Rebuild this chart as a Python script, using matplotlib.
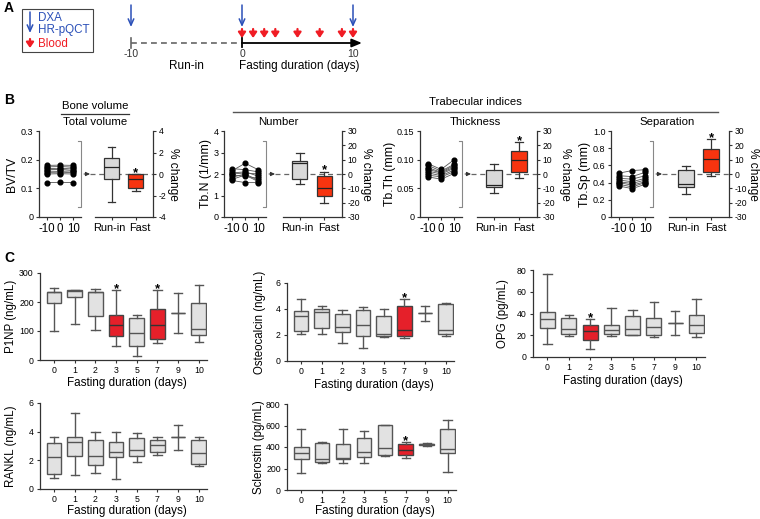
import numpy as np
import matplotlib
matplotlib.use("Agg")
import matplotlib.pyplot as plt

# ------------------------------------------------------------------ data
legend_labels = ["DXA", "HR-pQCT", "Blood"]
scan_days = [-10, 0, 10]
blood_days = [0, 1, 2, 3, 5, 7, 9, 10]
timeline_ticks = [-10, 0, 10]

b_time_labels = ["-10", "0", "10"]
b_group_labels = ["Run-in", "Fast"]

# per-subject values at day -10, 0, 10
bvtv_subjects = [[0.180, 0.181, 0.180], [0.175, 0.176, 0.174], [0.170, 0.168, 0.171],
                 [0.165, 0.166, 0.163], [0.160, 0.159, 0.161], [0.155, 0.154, 0.156],
                 [0.150, 0.151, 0.150], [0.120, 0.121, 0.120]]
tbn_subjects = [[2.25, 2.20, 2.10], [2.15, 2.50, 2.20], [2.05, 2.10, 1.90], [2.00, 2.05, 2.00],
                [1.95, 1.90, 1.80], [1.85, 2.00, 1.70], [1.75, 1.95, 1.65], [1.70, 1.60, 1.60]]
tbth_subjects = [[0.093, 0.083, 0.100], [0.090, 0.080, 0.092], [0.086, 0.078, 0.090],
                 [0.083, 0.077, 0.087], [0.080, 0.075, 0.085], [0.077, 0.072, 0.082],
                 [0.073, 0.070, 0.079], [0.070, 0.066, 0.076]]
tbsp_subjects = [[0.51, 0.54, 0.55], [0.48, 0.47, 0.52], [0.45, 0.44, 0.48], [0.43, 0.41, 0.45],
                 [0.41, 0.39, 0.43], [0.40, 0.37, 0.41], [0.38, 0.35, 0.40], [0.36, 0.33, 0.38]]

# % change boxes: [whisker low, q1, median, q3, whisker high]
bvtv_runin = [-2.6, -0.5, 0.65, 1.5, 2.5]
bvtv_fast = [-1.6, -1.3, -0.47, 0.0, 0.0]
tbn_runin = [-6.8, -3.8, 7.5, 9.3, 15.0]
tbn_fast = [-20.3, -15.0, -10.0, -1.3, 1.7]
tbth_runin = [-13.2, -8.8, -7.6, 2.5, 6.9]
tbth_fast = [-2.5, 1.6, 10.0, 16.0, 22.0]
tbsp_runin = [-14.2, -9.4, -7.0, 3.1, 5.6]
tbsp_fast = [-1.5, 1.3, 10.7, 17.2, 24.3]

c_days = ["0", "1", "2", "3", "5", "7", "9", "10"]
p1np = [[100, 197, 235, 236, 247], [125, 217, 237, 240, 243], [103, 152, 233, 235, 245],
        [47, 84, 121, 155, 240], [15, 47, 93, 145, 155], [57, 71, 121, 176, 241],
        [94, 162, 162, 162, 230], [63, 85, 107, 196, 259]]
osteocalcin = [[2.05, 2.3, 3.5, 3.85, 4.8], [2.05, 2.55, 3.8, 4.0, 4.25], [1.4, 2.2, 2.6, 3.65, 3.9],
               [1.0, 1.9, 2.8, 3.9, 4.15], [1.85, 1.9, 2.1, 3.5, 4.0], [1.8, 1.9, 2.4, 4.2, 4.8],
               [3.1, 3.7, 3.7, 3.7, 4.25], [1.9, 2.05, 2.4, 4.4, 4.5]]
opg = [[12, 27, 35, 41, 76], [19, 21, 26, 36, 39], [7, 16, 24, 29, 35], [19, 21, 25, 29, 45],
       [20, 20, 26, 38, 43], [18, 20, 28, 36, 51], [20, 31, 31, 31, 42], [18, 22, 29, 39, 53]]
rankl = [[0.8, 1.05, 2.2, 3.2, 3.65], [0.95, 2.3, 3.3, 3.65, 5.3], [1.1, 1.7, 2.3, 3.4, 4.0],
         [0.7, 2.2, 2.6, 3.25, 3.95], [1.85, 2.3, 2.7, 3.55, 3.9], [2.35, 2.6, 3.1, 3.4, 3.65],
         [2.7, 3.6, 3.6, 3.6, 4.5], [1.6, 1.75, 2.5, 3.4, 3.6]]
sclerostin = [[155, 285, 340, 400, 570], [250, 265, 285, 440, 450], [250, 290, 300, 430, 570],
              [255, 310, 350, 480, 550], [315, 330, 395, 605, 605], [300, 325, 375, 425, 450],
              [410, 415, 425, 430, 435], [165, 345, 385, 565, 655]]

# ------------------------------------------------------------------ setup
W, H = 760, 519
plt.rcParams['font.family'] = ['Liberation Sans', 'DejaVu Sans']
fig = plt.figure(figsize=(W / 100, H / 100), dpi=100)

BLUE = '#2b50b8'
RED_A = '#f01c24'
RED_B = '#f7340f'
RED_C = '#e5202a'
GREY_FILL = '#e2e2e2'
AX_COL = '#333333'

ov = fig.add_axes([0, 0, 1, 1])
ov.set_xlim(0, W)
ov.set_ylim(H, 0)
ov.axis('off')
ov.patch.set_alpha(0)


def add_ax(x0, y0, x1, y1):
    return fig.add_axes([x0 / W, 1 - y1 / H, (x1 - x0) / W, (y1 - y0) / H])


def five(s):
    return dict(whislo=s[0], q1=s[1], med=s[2], q3=s[3], whishi=s[4], fliers=[])


RED_ARROW = dict(arrowstyle='-|>,head_width=0.22,head_length=0.32', color=RED_A, lw=1.6,
                 shrinkA=0, shrinkB=0)
BLUE_ARROW = dict(arrowstyle='->,head_width=0.2,head_length=0.45', color=BLUE, lw=1.1,
                  shrinkA=0, shrinkB=0)

# ------------------------------------------------------------------ panel A
ov.text(4, 8, "A", fontsize=10, fontweight='bold', va='center', ha='left')
ov.add_patch(plt.Rectangle((22, 9), 71, 43, fill=False, ec='#444', lw=0.8))
ov.annotate('', xy=(30, 33), xytext=(30, 12), arrowprops=BLUE_ARROW)
ov.annotate('', xy=(30, 48), xytext=(30, 39), arrowprops=RED_ARROW)
ov.text(38, 18, legend_labels[0], color=BLUE, fontsize=8.4, va='center', ha='left')
ov.text(38, 30, legend_labels[1], color=BLUE, fontsize=8.4, va='center', ha='left')
ov.text(38, 44, legend_labels[2], color=RED_A, fontsize=8.4, va='center', ha='left')

# timeline axes: x in days, y in pixel rows
ppd = 11.1
axA = add_ax(120, 0, 372, 75)
axA.set_xlim((120 - 242) / ppd, (372 - 242) / ppd)
axA.set_ylim(75, 0)
axA.axis('off')
axA.plot([timeline_ticks[0], timeline_ticks[1]], [43, 43], color='#666', lw=1.2, ls=(0, (3.5, 2.5)))
axA.annotate('', xy=(10.8, 43), xytext=(0, 43),
             arrowprops=dict(arrowstyle='-|>,head_width=0.25,head_length=0.6', color='black', lw=1.3,
                             shrinkA=0, shrinkB=0))
axA.plot([timeline_ticks[0]] * 2, [38, 48], color='#666', lw=1.2)
axA.plot([timeline_ticks[1]] * 2, [38, 47], color='black', lw=1.3)
for t in timeline_ticks:
    axA.text(t, 54, str(t), ha='center', va='center', fontsize=7.5, color='#333')
axA.text(-5, 66, "Run-in", ha='center', va='center', fontsize=8.5)
axA.text(-0.3, 66, "Fasting duration (days)", ha='left', va='center', fontsize=8.5)
for d in scan_days:
    axA.annotate('', xy=(d, 27), xytext=(d, 5), arrowprops=BLUE_ARROW)
for d in blood_days:
    axA.annotate('', xy=(d, 38), xytext=(d, 29), arrowprops=RED_ARROW)

# ------------------------------------------------------------------ panel B
ov.text(4, 100, "B", fontsize=10, fontweight='bold', va='center', ha='left')
ov.text(95, 106, "Bone volume", ha='center', va='center', fontsize=8.2)
ov.plot([61, 129], [114, 114], color='#333', lw=0.9)
ov.text(95, 122, "Total volume", ha='center', va='center', fontsize=8.2)
ov.text(475, 102, "Trabecular indices", ha='center', va='center', fontsize=8.2)
ov.plot([233, 718], [112, 112], color='#555', lw=1.0)
for x, t in [(278, "Number"), (475, "Thickness"), (667, "Separation")]:
    ov.text(x, 122, t, ha='center', va='center', fontsize=8.2)

BY0, BY1 = 131, 217


def panel_b(lx0, rx0, rx1, subjects, ylim, yticks, yticklabels, ylabel, ylab_px,
            runin, fast, rlim, rticks, rlab_px):
    lx1 = lx0 + 42
    ax = add_ax(lx0, BY0, lx1, BY1)
    for s in subjects:
        ax.plot(range(3), s, color='#555', lw=0.6, marker='o', ms=3.4, mfc='black', mec='black',
                zorder=3, clip_on=False)
    ax.set_xlim(-0.62, 2.6)
    ax.set_ylim(*ylim)
    ax.set_xticks(range(3), b_time_labels)
    ax.set_yticks(yticks, yticklabels)
    for sp in ['top', 'right']:
        ax.spines[sp].set_visible(False)
    for sp in ['left', 'bottom']:
        ax.spines[sp].set_color(AX_COL)
        ax.spines[sp].set_linewidth(0.9)
    ax.patch.set_alpha(0)
    ax.tick_params(axis='y', labelsize=6.5, length=2.5, width=0.8, pad=1.5, color=AX_COL)
    ax.tick_params(axis='x', labelsize=8.3, length=2.5, width=0.8, pad=1.5, color=AX_COL)
    ax.set_ylabel(ylabel, fontsize=8.8)
    ax.yaxis.label.set_va('center')
    ax.yaxis.set_label_coords((ylab_px - lx0) / (lx1 - lx0), 0.5)

    # bracket + arrow
    ov.plot([lx1 - 3, lx1, lx1, lx1 - 3], [141, 141, 207, 207], color='#888', lw=0.8)
    ov.annotate('', xy=(lx1 + 9, 174), xytext=(lx1 + 3, 174),
                arrowprops=dict(arrowstyle='-|>,head_width=0.12,head_length=0.25', color='#333',
                                lw=0.7, shrinkA=0, shrinkB=0))

    axr = add_ax(rx0, BY0, rx1, BY1)
    axr.patch.set_alpha(0)
    bp = axr.bxp([five(runin), five(fast)], positions=[0, 1], widths=0.62, patch_artist=True,
                 showfliers=False,
                 boxprops=dict(lw=0.9, ec='#333'), whiskerprops=dict(lw=0.9, color='#333'),
                 capprops=dict(lw=0.9, color='#333'), medianprops=dict(lw=0.9, color='#222'),
                 capwidths=0.32, zorder=3)
    bp['boxes'][0].set_facecolor('#d9d9d9')
    bp['boxes'][1].set_facecolor(RED_B)
    axr.set_xlim(-0.69, 1.72)
    axr.set_ylim(*rlim)
    fx0 = (lx1 + 9 - rx0) / (rx1 - rx0)
    axr.plot([fx0, 1], [0, 0], transform=axr.get_yaxis_transform(), color='#666', lw=0.9,
             ls=(0, (4, 3)), clip_on=False, zorder=1)
    axr.annotate('*', xy=(1, fast[4]), xytext=(0, -1.5), textcoords='offset points',
                 ha='center', va='baseline', fontsize=9.5, fontweight='bold')
    # tick marks under the boxes, labels slightly spread apart
    axr.set_xticks([0, 1], ['', ''])
    axr.set_xticks([-0.1, 1.19], b_group_labels, minor=True)
    axr.tick_params(axis='x', which='minor', length=0, labelsize=7.9, pad=4)
    axr.set_yticks(rticks, [str(t) for t in rticks])
    axr.yaxis.tick_right()
    for sp in ['top', 'left']:
        axr.spines[sp].set_visible(False)
    for sp in ['right', 'bottom']:
        axr.spines[sp].set_color(AX_COL)
        axr.spines[sp].set_linewidth(0.9)
    axr.tick_params(axis='y', labelsize=6.2, length=2.5, width=0.8, pad=1.5, color=AX_COL)
    axr.tick_params(axis='x', which='major', length=2.5, width=0.8, color=AX_COL)
    axr.yaxis.set_label_position('right')
    axr.set_ylabel('% change', rotation=270, fontsize=8.6)
    axr.yaxis.label.set_va('center')
    axr.yaxis.set_label_coords((rlab_px - rx0) / (rx1 - rx0), 0.5)


panel_b(39, 95, 153, bvtv_subjects, (0, 0.3), [0, 0.1, 0.2, 0.3], ['0', '0.1', '0.2', '0.3'],
        'BV/TV', 12, bvtv_runin, bvtv_fast, (-4, 4), [-4, -2, 0, 2, 4], 173)
panel_b(224, 283, 342, tbn_subjects, (0, 4), [0, 1, 2, 3, 4], ['0', '1', '2', '3', '4'],
        'Tb.N (1/mm)', 206, tbn_runin, tbn_fast, (-30, 30), [-30, -20, -10, 0, 10, 20, 30], 366)
panel_b(420, 477, 537, tbth_subjects, (0, 0.15), [0, 0.05, 0.10, 0.15], ['0', '0.05', '0.10', '0.15'],
        'Tb.Th (mm)', 390, tbth_runin, tbth_fast, (-30, 30), [-30, -20, -10, 0, 10, 20, 30], 565)
panel_b(611, 669, 729, tbsp_subjects, (0, 1.0), [0, 0.2, 0.4, 0.6, 0.8, 1.0],
        ['0', '0.2', '0.4', '0.6', '0.8', '1.0'],
        'Tb.Sp (mm)', 585, tbsp_runin, tbsp_fast, (-30, 30), [-30, -20, -10, 0, 10, 20, 30], 753)

# ------------------------------------------------------------------ panel C
ov.text(4, 258, "C", fontsize=10, fontweight='bold', va='center', ha='left')


def panel_c(x0, y0, x1, y1, data, ylim, yticks, ylabel, ylab_px, red, stars, xlab_py):
    ax = add_ax(x0, y0, x1, y1)
    ax.patch.set_alpha(0)
    pos = list(range(len(c_days)))
    bp = ax.bxp([five(s) for s in data], positions=pos, widths=0.7, patch_artist=True,
                showfliers=False,
                boxprops=dict(lw=1.0, ec='#555'), whiskerprops=dict(lw=1.0, color='#555'),
                capprops=dict(lw=1.0, color='#555'), medianprops=dict(lw=1.0, color='#555'),
                capwidths=0.4)
    for i, b in enumerate(bp['boxes']):
        if i in red:
            b.set_facecolor(RED_C)
            b.set_edgecolor('#444')
            bp['medians'][i].set_color('#333')
        else:
            b.set_facecolor(GREY_FILL)
    for i in stars:
        ax.annotate('*', xy=(i, data[i][4]), xytext=(0, -1.5), textcoords='offset points',
                    ha='center', va='baseline', fontsize=9.5, fontweight='bold')
    ax.set_xlim(-0.68, 7.4)
    ax.set_ylim(*ylim)
    ax.set_xticks(pos, c_days)
    ax.set_yticks(yticks, [str(t) for t in yticks])
    for sp in ['top', 'right']:
        ax.spines[sp].set_visible(False)
    for sp in ['left', 'bottom']:
        ax.spines[sp].set_color(AX_COL)
        ax.spines[sp].set_linewidth(0.9)
    ax.tick_params(axis='both', labelsize=6.3, length=2.5, width=0.8, pad=2, color=AX_COL)
    ax.set_ylabel(ylabel, fontsize=8.3)
    ax.yaxis.label.set_va('center')
    ax.yaxis.set_label_coords((ylab_px - x0) / (x1 - x0), 0.5)
    ax.set_xlabel("Fasting duration (days)", fontsize=8.4)
    ax.xaxis.label.set_va('center')
    ax.xaxis.set_label_coords(0.52, -(xlab_py - y1) / (y1 - y0))


panel_c(40, 273, 207, 360, p1np, (0, 300), [0, 100, 200, 300], 'P1NP (ng/mL)', 11, [3, 5], [3, 5], 383)
panel_c(287, 283, 454, 361, osteocalcin, (0, 6), [0, 2, 4, 6], 'Osteocalcin (ng/mL)', 260, [5], [5], 385)
panel_c(533, 270, 705, 357, opg, (0, 80), [0, 20, 40, 60, 80], 'OPG (pg/mL)', 503, [2], [2], 381)
panel_c(40, 403, 207, 489, rankl, (0, 6), [0, 2, 4, 6], 'RANKL (ng/mL)', 11, [], [], 511)
panel_c(287, 404, 456, 490, sclerostin, (0, 800), [0, 200, 400, 600, 800], 'Sclerostin (pg/mL)',
        259, [5], [5], 511)

fig.savefig("out.png", dpi=100)
